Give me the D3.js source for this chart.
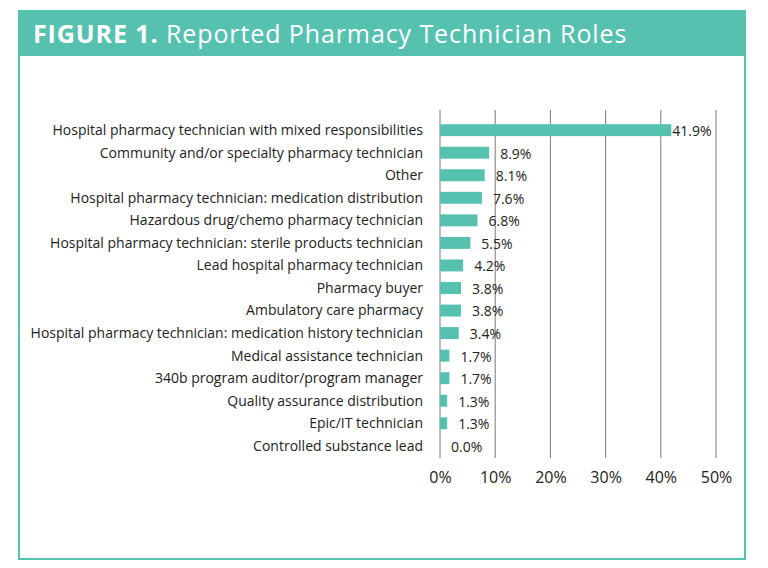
<!DOCTYPE html>
<html><head><meta charset="utf-8">
<script src="https://cdn.jsdelivr.net/npm/d3@7"></script>
<style>body{margin:0;background:#fff;}svg{display:block;}</style>
</head><body>
<svg id="c" width="768" height="568"></svg>
<script>
const categories = [
  "Hospital pharmacy technician with mixed responsibilities",
  "Community and/or specialty pharmacy technician",
  "Other",
  "Hospital pharmacy technician: medication distribution",
  "Hazardous drug/chemo pharmacy technician",
  "Hospital pharmacy technician: sterile products technician",
  "Lead hospital pharmacy technician",
  "Pharmacy buyer",
  "Ambulatory care pharmacy",
  "Hospital pharmacy technician: medication history technician",
  "Medical assistance technician",
  "340b program auditor/program manager",
  "Quality assurance distribution",
  "Epic/IT technician",
  "Controlled substance lead"
];
const values = [41.9, 8.9, 8.1, 7.6, 6.8, 5.5, 4.2, 3.8, 3.8, 3.4, 1.7, 1.7, 1.3, 1.3, 0.0];
const tickValues = [0, 10, 20, 30, 40, 50];
const titleBold = "FIGURE 1.";
const titleRest = " Reported Pharmacy Technician Roles";

const teal = "#57c1b0";
const svg = d3.select("#c");
const font = "'Open Sans', sans-serif";

// frame
svg.append("rect").attr("x", 19).attr("y", 11).attr("width", 726).attr("height", 548)
  .attr("fill", "#fff").attr("stroke", teal).attr("stroke-width", 2);
svg.append("rect").attr("x", 18).attr("y", 10).attr("width", 728).attr("height", 46).attr("fill", teal);
const t = svg.append("text").attr("x", 33).attr("y", 43).attr("fill", "#fff")
  .attr("font-family", font).attr("font-size", 25).attr("letter-spacing", 0.9);
t.append("tspan").attr("font-weight", 700).text(titleBold);
t.append("tspan").attr("font-weight", 400).text(titleRest);

const x = d3.scaleLinear().domain([0, 50]).range([440, 716]);
const y = d3.scaleBand().domain(categories).range([119, 457]).paddingInner(0.47).paddingOuter(0.23);

// gridlines
svg.append("g").selectAll("line").data(tickValues).join("line")
  .attr("x1", d => x(d)).attr("x2", d => x(d)).attr("y1", 110).attr("y2", 458)
  .attr("stroke", "#7a7a7a").attr("stroke-width", 1);

// axis labels
const ax = svg.append("g").attr("transform", "translate(0,458)")
  .call(d3.axisBottom(x).tickValues(tickValues).tickFormat(d => d + "%").tickSize(0).tickPadding(14));
ax.select(".domain").remove();
ax.selectAll("text").attr("font-family", font).attr("font-size", 16).attr("fill", "#222");

// bars
svg.append("g").selectAll("rect").data(values).join("rect")
  .attr("x", x(0)).attr("y", (d, i) => y(categories[i]))
  .attr("width", d => x(d) - x(0)).attr("height", y.bandwidth()).attr("fill", teal);

// category labels
svg.append("g").selectAll("text").data(categories).join("text")
  .attr("x", 423).attr("y", d => y(d) + y.bandwidth() / 2).attr("dy", "0.35em")
  .attr("text-anchor", "end").attr("font-family", font).attr("font-size", 14).attr("fill", "#222")
  .text(d => d);

// value labels
svg.append("g").selectAll("text").data(values).join("text")
  .attr("x", d => x(d) + (d > 30 ? 1 : 11)).attr("y", (d, i) => y(categories[i]) + y.bandwidth() / 2 + 1)
  .attr("dy", "0.35em").attr("font-family", font).attr("font-size", 14).attr("fill", "#222")
  .text(d => d.toFixed(1) + "%");
</script>
</body></html>
